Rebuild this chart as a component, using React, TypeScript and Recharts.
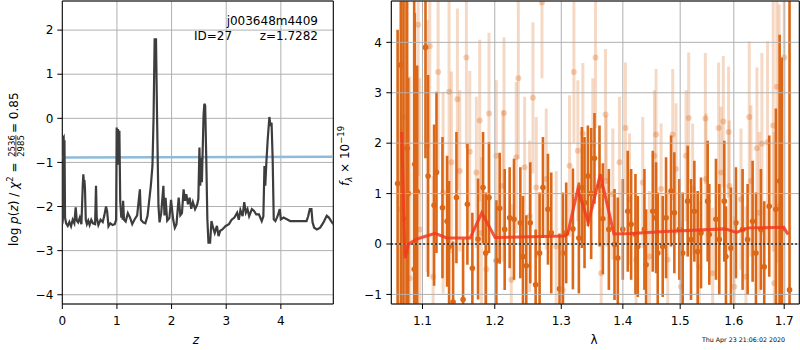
import React from 'react'
import {
  ComposedChart,
  Line,
  Scatter,
  ErrorBar,
  XAxis,
  YAxis,
  CartesianGrid,
  ReferenceLine,
  ReferenceArea,
} from 'recharts'

const FONT = '"DejaVu Sans", sans-serif'
const ORANGE = '#dc6716'
const GRID = '#b0b0b0'

// ---- left panel: log p(z) ----
const pzZ = [
  0.0, 0.01, 0.015, 0.025, 0.035, 0.04, 0.05, 0.07, 0.1, 0.13, 0.16, 0.19, 0.22, 0.245, 0.265, 0.29,
  0.32, 0.35, 0.375, 0.385, 0.395, 0.405, 0.415, 0.43, 0.45, 0.475, 0.5, 0.53, 0.56, 0.6, 0.617, 0.63,
  0.66, 0.7, 0.74, 0.77, 0.8, 0.82, 0.845, 0.88, 0.92, 0.96, 0.985, 0.995, 1.005, 1.02, 1.03, 1.045,
  1.06, 1.08, 1.095, 1.105, 1.113, 1.13, 1.16, 1.2, 1.24, 1.28, 1.32, 1.37, 1.42, 1.44, 1.48, 1.52,
  1.56, 1.62, 1.65, 1.67, 1.69, 1.715, 1.735, 1.76, 1.78, 1.81, 1.85, 1.87, 1.89, 1.92, 1.96, 1.99,
  2.03, 2.06, 2.09, 2.13, 2.16, 2.19, 2.22, 2.245, 2.27, 2.3, 2.33, 2.36, 2.39, 2.43, 2.47, 2.49,
  2.51, 2.525, 2.54, 2.555, 2.585, 2.6, 2.615, 2.635, 2.655, 2.675, 2.705, 2.73, 2.76, 2.79, 2.83,
  2.86, 2.89, 2.93, 2.99, 3.05, 3.1, 3.15, 3.2, 3.23, 3.26, 3.3, 3.33, 3.36, 3.39, 3.42, 3.47, 3.51,
  3.55, 3.6, 3.65, 3.68, 3.7, 3.715, 3.735, 3.76, 3.79, 3.81, 3.83, 3.85, 3.87, 3.9, 3.94, 3.98, 4.0,
  4.05, 4.11, 4.17, 4.23, 4.35, 4.47, 4.5, 4.53, 4.56, 4.58, 4.61, 4.66, 4.72, 4.78, 4.84, 4.88, 4.92,
  4.96,
]
const pzLogP = [
  -2.4, -2.3, -0.45, -0.43, -1.2, -0.5, -2.25, -2.38, -2.44, -2.35, -2.45, -2.3, -2.38, -2.02, -2.32,
  -2.36, -2.25, -2.4, -1.5, -1.27, -1.45, -1.4, -1.6, -2.3, -2.4, -2.32, -2.42, -2.3, -2.38, -2.4,
  -1.53, -2.25, -2.42, -2.3, -2.35, -2.2, -2.0, -2.1, -2.45, -2.38, -2.42, -2.4, -2.3, -0.21, -1.0,
  -0.24, -1.05, -0.28, -1.87, -2.25, -2.1, -2.3, -1.87, -2.3, -2.34, -2.15, -2.25, -2.4, -2.3, -2.2,
  -1.61, -2.3, -2.36, -2.38, -2.21, -1.53, -1.08, -0.01, 1.79, 1.79, -0.01, -1.98, -2.36, -2.15,
  -1.53, -2.2, -1.8, -2.32, -2.26, -1.85, -2.3, -2.48, -2.4, -1.8, -2.2, -2.15, -1.61, -1.87, -1.72,
  -1.95, -1.8, -2.05, -1.9, -2.06, -1.95, -1.83, -0.66, -1.53, -0.9, -1.45, 0.06, 0.33, 0.29, -0.92,
  -2.29, -2.82, -2.82, -2.33, -2.48, -2.6, -2.44, -2.67, -2.55, -2.52, -2.44, -2.4, -2.3, -2.25,
  -2.14, -2.3, -2.08, -2.22, -1.9, -2.14, -2.06, -2.22, -2.06, -2.1, -2.18, -2.18, -2.33, -2.22,
  -1.08, -1.53, -1.0, -0.47, 0.03, -0.17, -0.1, -0.92, -2.29, -2.33, -2.22, -2.06, -2.29, -2.25,
  -2.29, -2.33, -2.33, -2.33, -2.33, -2.22, -2.06, -2.06, -2.36, -2.48, -2.52, -2.48, -2.36, -2.21,
  -2.25, -2.33, -2.4,
]
// near-flat blue line
const flatZ = [0, 4.96]
const flatLogP = [-0.89, -0.87]

const zTicks = [0, 1, 2, 3, 4]
const logPTicks = [-4, -3, -2, -1, 0, 1, 2]

// ---- right panel: spectrum ----
const lightLam = [
  1.0726, 1.0747, 1.0834, 1.0943, 1.0965, 1.1062, 1.1097, 1.1142, 1.1209, 1.1277, 1.1358, 1.139,
  1.1472, 1.1505, 1.1597, 1.1644, 1.1737, 1.1784, 1.1808, 1.1879, 1.1917, 1.2023, 1.2119, 1.2134,
  1.2241, 1.2315, 1.2345, 1.2439, 1.2514, 1.2564, 1.2615, 1.2701, 1.2767, 1.2921, 1.3025, 1.313,
  1.3199, 1.3262, 1.3342, 1.3503, 1.3547, 1.3639, 1.3711, 1.3722, 1.3832, 1.3943, 1.4044, 1.4112,
  1.4225, 1.4339, 1.4455, 1.4542, 1.4571, 1.4659, 1.4777, 1.4866, 1.4925, 1.5015, 1.5106, 1.5154,
  1.5227, 1.535, 1.5461, 1.5473, 1.5598, 1.571, 1.5754, 1.5799, 1.59, 1.5913, 1.6009, 1.6138, 1.6235,
  1.63, 1.6333, 1.6451, 1.6497, 1.655, 1.6663, 1.6777, 1.6797, 1.6851, 1.6898, 1.7,
]
const lightFlux = [
  0.69, 2.52, -0.68, 4.35, 0.29, 1.95, 3.92, -0.65, 3.41, 1.02, 3.02, 1.62, 2.87, 1.45, 3.7, 1.83,
  1.42, 2.45, 0.22, -0.5, 2.59, 1.75, 1.15, 2.6, -0.71, 1.72, 3.29, 1.52, 0.55, 2.9, 1.12, 4.79,
  1.29, -0.05, -0.91, 1.55, 3.41, 1.85, 2.19, 1.99, 3.7, -0.58, 2.57, 1.25, 0.99, 1.62, 2.3, 0.89,
  -0.31, 1.22, -0.25, 1.75, 2.17, 1.09, -0.31, 2.17, 1.49, -0.85, 1.75, 2.5, 1.09, -0.45, 2.49, 1.29,
  -0.58, 2.3, 1.42, 2.43, 2.22, 1.15, -0.85, 0.89, -0.65, 2.52, 1.25, 1.9, 0.62, 1.99, 2.02, 2.35,
  -0.78, 3.12, 0.75, 3.7,
]
const lightErr = [
  5.0, 4.0, 4.0, 3.0, 3.0, 2.5, 2.5, 2.0, 2.0, 2.0, 1.8, 1.8, 1.8, 1.6, 1.8, 1.6, 1.5, 1.6, 1.5, 1.5,
  1.6, 1.5, 1.5, 1.5, 1.5, 1.5, 1.6, 1.4, 1.5, 1.5, 1.4, 1.5, 1.4, 1.5, 1.4, 1.4, 1.4, 1.4, 1.4, 1.3,
  1.4, 1.3, 1.3, 1.3, 1.3, 1.3, 1.3, 1.3, 1.3, 1.3, 1.3, 1.3, 1.3, 1.3, 1.3, 1.3, 1.3, 1.3, 1.3, 1.3,
  1.3, 1.3, 1.3, 1.3, 1.3, 1.3, 1.3, 1.3, 1.3, 1.3, 1.4, 1.4, 1.4, 1.5, 1.5, 1.6, 1.6, 1.8, 2.0, 2.5,
  3.0, 3.5, 4.0, 5.0,
]

const darkLam = [
  1.0676, 1.0717, 1.0752, 1.0791, 1.0799, 1.0813, 1.0891, 1.0899, 1.093, 1.104, 1.1075, 1.1155,
  1.1187, 1.1268, 1.1331, 1.1358, 1.1413, 1.1459, 1.1551, 1.1611, 1.1681, 1.1761, 1.1832, 1.187,
  1.1917, 1.2023, 1.2071, 1.2144, 1.2217, 1.2281, 1.2375, 1.2414, 1.2464, 1.2524, 1.2605, 1.2665,
  1.2716, 1.2793, 1.2844, 1.2973, 1.3025, 1.3077, 1.3183, 1.3278, 1.3326, 1.3369, 1.3423, 1.3476,
  1.353, 1.3612, 1.3667, 1.3766, 1.386, 1.3915, 1.3999, 1.4083, 1.414, 1.4214, 1.4254, 1.4368,
  1.4397, 1.4513, 1.4571, 1.46, 1.4688, 1.4747, 1.4836, 1.4895, 1.4985, 1.5045, 1.5136, 1.5197,
  1.5258, 1.5319, 1.5381, 1.5504, 1.5535, 1.566, 1.5723, 1.5818, 1.5849, 1.5945, 1.6041, 1.617,
  1.6268, 1.6366, 1.6432, 1.6531, 1.6597, 1.6697, 1.6831, 1.6907, 1.695, 1.711,
]
const darkFlux = [
  1.2, 3.55, 0.5, -0.18, 1.9, 1.0, -0.5, 1.58, 1.04, 3.9, 1.35, 0.77, 1.42, 0.72, 0.45, -0.05, -1.15,
  0.92, -1.1, 0.79, -0.48, 0.1, 1.12, -0.18, 0.92, -0.33, 0.71, 0.29, 0.52, 0.49, 0.42, -0.25, -0.43,
  0.42, -0.81, -0.18, 1.12, 0.69, 0.22, -0.89, -0.18, 0.22, 0.3, 0.12, 1.12, 0.82, 1.35, 1.0, 1.7,
  1.15, 0.5, 0.29, -0.01, -0.28, 0.29, 0.65, 0.39, 0.19, -0.05, 0.29, -0.41, 0.65, 0.52, -0.18, -0.05,
  0.52, 1.05, 0.62, 0.29, -0.18, 0.85, 0.09, 0.65, -0.15, 0.22, 0.85, 0.19, 0.49, 0.09, 0.85, -0.25,
  -0.08, 0.42, 0.29, 0.09, 0.45, -0.18, 0.29, -0.45, 0.75, 0.69, 1.25, 0.3, -0.91,
]
const darkErr = [
  3.05, 5.0, 6.0, 5.0, 4.0, 2.3, 6.0, 3.0, 2.5, 2.2, 2.0, 1.6, 1.6, 1.4, 1.3, 1.3, 1.2, 1.3, 1.2, 1.2,
  1.1, 1.2, 1.1, 1.2, 1.1, 1.2, 1.1, 1.2, 1.0, 1.2, 1.1, 1.2, 1.0, 1.2, 1.1, 1.2, 1.0, 1.1, 1.2, 1.1,
  1.2, 1.0, 1.2, 1.1, 1.2, 1.3, 1.0, 1.3, 0.9, 1.2, 1.1, 1.2, 1.1, 1.2, 1.0, 1.2, 1.1, 1.2, 1.0, 1.2,
  1.1, 1.2, 1.1, 1.2, 1.0, 1.2, 1.1, 1.2, 1.0, 1.2, 1.1, 1.2, 1.0, 1.2, 1.1, 1.2, 1.0, 1.2, 1.1, 1.2,
  1.0, 1.2, 1.1, 1.2, 1.1, 1.2, 1.2, 1.2, 1.3, 1.4, 2.0, 2.9, 3.4, 6.0,
]

const modelLam = [
  1.0729, 1.0764, 1.0775, 1.0817, 1.0926, 1.101, 1.1169, 1.1327, 1.1649, 1.1814, 1.2004, 1.3057,
  1.3100, 1.326, 1.343, 1.3625, 1.385, 1.414, 1.472, 1.583, 1.605, 1.628, 1.699, 1.708,
]
const modelFlux = [
  2.22, 0.0, -0.28, 0.0, 0.1, 0.14, 0.21, 0.12, 0.12, 0.62, 0.13, 0.16, 0.2, 1.08, 0.43, 1.38, 0.2,
  0.21, 0.25, 0.3, 0.23, 0.32, 0.33, 0.19,
]

const lamTicks = [1.1, 1.2, 1.3, 1.4, 1.5, 1.6, 1.7]
const fluxTicks = [-1, 0, 1, 2, 3, 4]

const LAM_DOMAIN: [number, number] = [1.0595, 1.7312]
const FLUX_DOMAIN: [number, number] = [-1.19, 4.82]
const SPEC_MARGIN = { top: 1, right: 0.7, bottom: 16, left: 11.3 }

const minus = (v: number) => String(v).replace('-', '\u2212')
const tickStyle = { fill: '#000', fontSize: 12, fontFamily: FONT }

const lightDot = (p: any) => (
  <circle cx={p.cx} cy={p.cy} r={3} fill={ORANGE} fillOpacity={0.3} />
)
const darkDot = (p: any) => <circle cx={p.cx} cy={p.cy} r={2.8} fill={ORANGE} />

function PzPanel() {
  const pz = pzZ.map((z, i) => ({ z, logp: pzLogP[i] }))
  const flat = flatZ.map((z, i) => ({ z, logp: flatLogP[i] }))
  return (
    <ComposedChart width={340} height={350} margin={{ top: 1, right: 6.7, bottom: 16, left: 22.3 }}>
      <CartesianGrid stroke={GRID} strokeWidth={1} />
      <XAxis
        dataKey="z"
        type="number"
        domain={[0, 4.96]}
        ticks={zTicks}
        interval={0}
        allowDataOverflow
        axisLine={false}
        tickLine={{ stroke: '#000' }}
        tickSize={5}
        tickMargin={7.5}
        height={30}
        tick={tickStyle}
      />
      <YAxis
        type="number"
        domain={[-4.21, 2.66]}
        ticks={logPTicks}
        interval={0}
        allowDataOverflow
        axisLine={false}
        tickLine={{ stroke: '#000' }}
        tickSize={5}
        tickMargin={4}
        width={40}
        tick={tickStyle}
        tickFormatter={minus}
      />
      <Line
        data={flat}
        dataKey="logp"
        stroke="#8fbbd9"
        strokeWidth={2.5}
        dot={false}
        isAnimationActive={false}
      />
      <Line
        data={pz}
        dataKey="logp"
        type="linear"
        stroke="#3d3d3d"
        strokeWidth={2.2}
        dot={false}
        isAnimationActive={false}
      />
      <ReferenceArea x1={0} x2={4.96} y1={-4.21} y2={2.66} fill="none" stroke="#000" strokeWidth={1} />
    </ComposedChart>
  )
}

// error bars only, clipped to the plot box by the wrapping div
function SpecPoints() {
  const light = lightLam.map((lam, i) => ({ lam, flux: lightFlux[i], err: lightErr[i] }))
  const dark = darkLam.map((lam, i) => ({ lam, flux: darkFlux[i], err: darkErr[i] }))
  return (
    <ComposedChart width={460} height={350} margin={SPEC_MARGIN}>
      <XAxis dataKey="lam" type="number" scale="log" domain={LAM_DOMAIN} allowDataOverflow
        tick={false} tickLine={false} axisLine={false} height={30} />
      <YAxis type="number" domain={FLUX_DOMAIN} allowDataOverflow
        tick={false} tickLine={false} axisLine={false} width={40} />
      <Scatter data={light} dataKey="flux" shape={lightDot} isAnimationActive={false}>
        <ErrorBar dataKey="err" direction="y" width={0} stroke={ORANGE} strokeOpacity={0.25} strokeWidth={3} />
      </Scatter>
      <Scatter data={dark} dataKey="flux" shape={darkDot} isAnimationActive={false}>
        <ErrorBar dataKey="err" direction="y" width={0} stroke={ORANGE} strokeWidth={2.6} />
      </Scatter>
    </ComposedChart>
  )
}

// axes, grid, zero line and model on top of the points
function SpecFrame() {
  const model = modelLam.map((lam, i) => ({ lam, flux: modelFlux[i] }))
  return (
    <ComposedChart width={460} height={350} margin={SPEC_MARGIN}>
      <XAxis
        dataKey="lam"
        type="number"
        scale="log"
        domain={LAM_DOMAIN}
        ticks={lamTicks}
        interval={0}
        allowDataOverflow
        axisLine={false}
        tickLine={{ stroke: '#000' }}
        tickSize={5}
        tickMargin={7.5}
        height={30}
        tick={tickStyle}
        tickFormatter={(v: number) => v.toFixed(1)}
      />
      <YAxis
        type="number"
        domain={FLUX_DOMAIN}
        ticks={fluxTicks}
        interval={0}
        allowDataOverflow
        axisLine={false}
        tickLine={{ stroke: '#000' }}
        tickSize={5}
        tickMargin={4.5}
        width={40}
        tick={tickStyle}
        tickFormatter={minus}
      />
      <CartesianGrid stroke={GRID} strokeWidth={1} />
      <ReferenceLine y={0} stroke="#000" strokeWidth={1.5} strokeDasharray="1.5 2.5" />
      <Line
        data={model}
        dataKey="flux"
        type="linear"
        stroke="#f23a1e"
        strokeOpacity={0.85}
        strokeWidth={3}
        dot={false}
        isAnimationActive={false}
      />
      <ReferenceArea x1={LAM_DOMAIN[0]} x2={LAM_DOMAIN[1]} y1={FLUX_DOMAIN[0]} y2={FLUX_DOMAIN[1]}
        fill="none" stroke="#000" strokeWidth={1} />
    </ComposedChart>
  )
}

function Labels() {
  return (
    <svg width={800} height={350} style={{ position: 'absolute', left: 0, top: 0, pointerEvents: 'none' }}>
      <g fontFamily={FONT} fill="#000">
        <text x={318} y={24.5} fontSize={12} textAnchor="end">j003648m4409</text>
        <text x={194} y={39.5} fontSize={12}>ID=27</text>
        <text x={318} y={39.5} fontSize={12} textAnchor="end">z=1.7282</text>

        <text x={196} y={344} fontSize={12} fontStyle="italic" textAnchor="middle">z</text>
        <text x={594} y={344} fontSize={12} textAnchor="middle">λ</text>
        <text x={743.5} y={341.5} fontSize={6.3} textAnchor="middle">Thu Apr 23 21:06:02 2020</text>

        <g transform="translate(17.5 246) rotate(-90)">
          <text x={0} y={0} fontSize={12}>
            log <tspan fontStyle="italic">p</tspan>(<tspan fontStyle="italic">z</tspan>) /{' '}
            <tspan fontStyle="italic">χ</tspan>
            <tspan fontSize={8.5} dy={-5}>2</tspan>
            <tspan dy={5}> = </tspan>
          </text>
          <text x={100} y={-3} fontSize={8.5} textAnchor="middle">2536</text>
          <line x1={89} x2={111} y1={-1.6} y2={-1.6} stroke="#000" strokeWidth={0.7} />
          <text x={100} y={6} fontSize={8.5} textAnchor="middle">2985</text>
          <text x={113} y={0} fontSize={12}> = 0.85</text>
        </g>

        <g transform="translate(349 186) rotate(-90)">
          <text x={0} y={0} fontSize={12}>
            <tspan fontStyle="italic">f</tspan>
            <tspan fontSize={8.5} dy={3} fontStyle="italic">λ</tspan>
            <tspan dy={-3}> × 10</tspan>
            <tspan fontSize={8.5} dy={-5}>−19</tspan>
          </text>
        </g>
      </g>
    </svg>
  )
}

export default function App() {
  return (
    <div style={{ position: 'absolute', left: 0, top: 0, width: 800, height: 350, background: '#fff' }}>
      <div style={{ position: 'absolute', left: 0, top: 0 }}>
        <PzPanel />
      </div>
      <div
        style={{
          position: 'absolute',
          left: 340,
          top: 0,
          width: 460,
          height: 350,
          clipPath: 'inset(1px 0.7px 46px 51.3px)',
        }}
      >
        <SpecPoints />
      </div>
      <div style={{ position: 'absolute', left: 340, top: 0 }}>
        <SpecFrame />
      </div>
      <Labels />
    </div>
  )
}
